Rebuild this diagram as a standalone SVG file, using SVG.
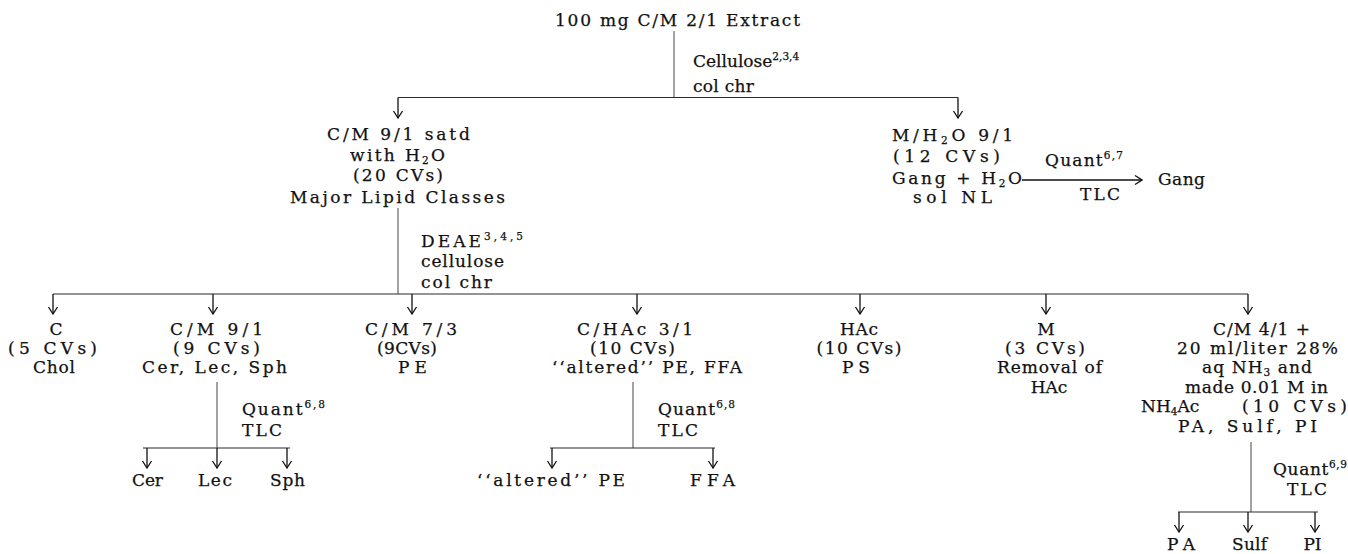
<svg xmlns="http://www.w3.org/2000/svg" width="1348" height="554" viewBox="0 0 1348 554">
<defs>
<style>
.t{font-family:"DejaVu Serif","Liberation Serif",serif;font-size:17px;fill:#111;stroke:#111;stroke-width:0.25;}
.m{text-anchor:middle;}
.sup{font-size:10.5px;}
.sub{font-size:10.5px;}
.ln{stroke:#2a2a2a;stroke-width:1.2;fill:none;}
.v{stroke:#444;stroke-width:1;fill:none;}
.ar{stroke:#111;stroke-width:1.3;fill:none;marker-end:url(#ah);}
</style>
<marker id="ah" markerUnits="userSpaceOnUse" viewBox="-8 -6 9 12" markerWidth="9" markerHeight="12" refX="0" refY="0" orient="auto">
<path d="M-7,-4.5 L0,0 L-7,4.5" fill="none" stroke="#111" stroke-width="1.3"/>
</marker>
</defs>
<rect width="1348" height="554" fill="#fff"/>

<g id="connectors">
<path class="v" d="M674,31 V97.5"/>
<path class="ln" d="M398,97.5 H958"/>
<path class="ar" d="M398,97.5 V118"/>
<path class="ar" d="M958,97.5 V118"/>
<path class="ar" d="M1022,180 H1142"/>
<path class="v" d="M398,208 V294"/>
<path class="ln" d="M53,294 H1248"/>
<path class="ar" d="M53,294 V314"/>
<path class="ar" d="M213,294 V314"/>
<path class="ar" d="M412,294 V314"/>
<path class="ar" d="M637,294 V314"/>
<path class="ar" d="M860,294 V314"/>
<path class="ar" d="M1046,294 V314"/>
<path class="ar" d="M1248,294 V314"/>
<path class="v" d="M217,382 V448"/>
<path class="ln" d="M143,448 H290"/>
<path class="ar" d="M147,448 V468"/>
<path class="ar" d="M217,448 V468"/>
<path class="ar" d="M287,448 V468"/>
<path class="v" d="M633,382 V448"/>
<path class="ln" d="M550,448 H715"/>
<path class="ar" d="M552,448 V468"/>
<path class="ar" d="M713,448 V468"/>
<path class="v" d="M1251,442 V512"/>
<path class="ln" d="M1178,512 H1318"/>
<path class="ar" d="M1179,512 V532"/>
<path class="ar" d="M1248,512 V532"/>
<path class="ar" d="M1315,512 V532"/>
</g>

<g id="extract">
<text class="t m" x="677.5" y="26" textLength="245" lengthAdjust="spacing">100 mg C/M 2/1 Extract</text>
</g>
<g id="step-cellulose">
<text class="t" x="693" y="67">Cellulose<tspan class="sup" dy="-7">2,3,4</tspan></text>
<text class="t" x="693" y="92" textLength="61" lengthAdjust="spacing">col chr</text>
</g>

<g id="major-lipid">
<text class="t m" x="398.5" y="140" textLength="143" lengthAdjust="spacing">C/M 9/1 satd</text>
<text class="t m" x="397.5" y="161" textLength="95" lengthAdjust="spacing">with H<tspan class="sub" dy="3">2</tspan><tspan dy="-3">O</tspan></text>
<text class="t m" x="398" y="181" textLength="90" lengthAdjust="spacing">(20 CVs)</text>
<text class="t m" x="397.5" y="203" textLength="215" lengthAdjust="spacing">Major Lipid Classes</text>
</g>
<g id="step-deae">
<text class="t" x="421" y="247" textLength="102" lengthAdjust="spacing">DEAE<tspan class="sup" dy="-7">3,4,5</tspan></text>
<text class="t" x="421" y="267" textLength="83" lengthAdjust="spacing">cellulose</text>
<text class="t" x="421" y="288" textLength="71" lengthAdjust="spacing">col chr</text>
</g>

<g id="m-h2o">
<text class="t m" x="952.5" y="141" textLength="121" lengthAdjust="spacing">M/H<tspan class="sub" dy="3">2</tspan><tspan dy="-3">O 9/1</tspan></text>
<text class="t m" x="946.5" y="162" textLength="107" lengthAdjust="spacing">(12 CVs)</text>
<text class="t m" x="957" y="184" textLength="130" lengthAdjust="spacing">Gang + H<tspan class="sub" dy="3">2</tspan><tspan dy="-3">O</tspan></text>
<text class="t m" x="952.5" y="203" textLength="79" lengthAdjust="spacing">sol NL</text>
</g>
<g id="step-quant-gang">
<text class="t" x="1045" y="166" textLength="78" lengthAdjust="spacing">Quant<tspan class="sup" dy="-7">6,7</tspan></text>
<text class="t" x="1080" y="200" textLength="40" lengthAdjust="spacing">TLC</text>
</g>
<g id="gang">
<text class="t" x="1158" y="185" textLength="47" lengthAdjust="spacing">Gang</text>
</g>

<g id="chol">
<text class="t m" x="56" y="335">C</text>
<text class="t m" x="52.5" y="354" textLength="89" lengthAdjust="spacing">(5 CVs)</text>
<text class="t m" x="54" y="373" textLength="42" lengthAdjust="spacing">Chol</text>
</g>
<g id="cm91">
<text class="t m" x="216.5" y="335" textLength="93" lengthAdjust="spacing">C/M 9/1</text>
<text class="t m" x="216.5" y="354" textLength="87" lengthAdjust="spacing">(9 CVs)</text>
<text class="t m" x="214.5" y="373" textLength="145" lengthAdjust="spacing">Cer, Lec, Sph</text>
</g>
<g id="step-quant-68a">
<text class="t" x="242" y="415" textLength="83" lengthAdjust="spacing">Quant<tspan class="sup" dy="-7">6,8</tspan></text>
<text class="t" x="242" y="436" textLength="40" lengthAdjust="spacing">TLC</text>
</g>
<g id="cer"><text class="t m" x="147.5" y="486" textLength="31" lengthAdjust="spacing">Cer</text></g>
<g id="lec"><text class="t m" x="215" y="486" textLength="34" lengthAdjust="spacing">Lec</text></g>
<g id="sph"><text class="t m" x="287.5" y="486" textLength="35" lengthAdjust="spacing">Sph</text></g>

<g id="pe">
<text class="t m" x="411" y="335" textLength="92" lengthAdjust="spacing">C/M 7/3</text>
<text class="t m" x="407" y="354" textLength="60" lengthAdjust="spacing">(9CVs)</text>
<text class="t m" x="412.5" y="373" textLength="29" lengthAdjust="spacing">PE</text>
</g>

<g id="chac">
<text class="t m" x="635" y="335" textLength="116" lengthAdjust="spacing">C/HAc 3/1</text>
<text class="t m" x="632.5" y="354" textLength="85" lengthAdjust="spacing">(10 CVs)</text>
<text class="t m" x="647" y="373" textLength="190" lengthAdjust="spacing">‘‘altered’’ PE, FFA</text>
</g>
<g id="step-quant-68b">
<text class="t" x="658" y="415" textLength="77" lengthAdjust="spacing">Quant<tspan class="sup" dy="-7">6,8</tspan></text>
<text class="t" x="658" y="436" textLength="40" lengthAdjust="spacing">TLC</text>
</g>
<g id="altered-pe"><text class="t m" x="551" y="486" textLength="148" lengthAdjust="spacing">‘‘altered’’ PE</text></g>
<g id="ffa"><text class="t m" x="712.5" y="486" textLength="45" lengthAdjust="spacing">FFA</text></g>

<g id="hac">
<text class="t m" x="859" y="335" textLength="38" lengthAdjust="spacing">HAc</text>
<text class="t m" x="859" y="354" textLength="85" lengthAdjust="spacing">(10 CVs)</text>
<text class="t m" x="856" y="373" textLength="28" lengthAdjust="spacing">PS</text>
</g>

<g id="methanol">
<text class="t m" x="1046" y="335">M</text>
<text class="t m" x="1045" y="354" textLength="80" lengthAdjust="spacing">(3 CVs)</text>
<text class="t m" x="1049.5" y="373" textLength="105" lengthAdjust="spacing">Removal of</text>
<text class="t m" x="1049" y="393">HAc</text>
</g>

<g id="cm41">
<text class="t m" x="1261.5" y="335" textLength="97" lengthAdjust="spacing">C/M 4/1 +</text>
<text class="t m" x="1257.5" y="354" textLength="161" lengthAdjust="spacing">20 ml/liter 28%</text>
<text class="t m" x="1257" y="373" textLength="110" lengthAdjust="spacing">aq NH<tspan class="sub" dy="3">3</tspan><tspan dy="-3"> and</tspan></text>
<text class="t m" x="1256.5" y="393" textLength="143" lengthAdjust="spacing">made 0.01 M in</text>
<text class="t" x="1141" y="412">NH<tspan class="sub" dy="3">4</tspan><tspan dy="-3">Ac</tspan></text>
<text class="t" x="1242" y="412" textLength="105" lengthAdjust="spacing">(10 CVs)</text>
<text class="t m" x="1247.5" y="432" textLength="139" lengthAdjust="spacing">PA, Sulf, PI</text>
</g>
<g id="step-quant-69">
<text class="t" x="1273" y="475" textLength="74" lengthAdjust="spacing">Quant<tspan class="sup" dy="-7">6,9</tspan></text>
<text class="t" x="1287" y="495" textLength="40" lengthAdjust="spacing">TLC</text>
</g>
<g id="pa"><text class="t m" x="1181" y="550" textLength="28" lengthAdjust="spacing">PA</text></g>
<g id="sulf"><text class="t m" x="1249.5" y="550" textLength="35" lengthAdjust="spacing">Sulf</text></g>
<g id="pi"><text class="t m" x="1312.5" y="550">PI</text></g>
</svg>
